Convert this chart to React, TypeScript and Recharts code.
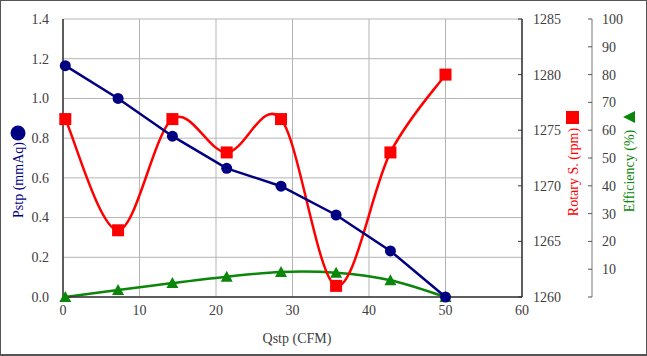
import React from 'react'
import { LineChart, Line, XAxis, YAxis, CartesianGrid } from 'recharts'

const qstp = [0.3, 7.2, 14.3, 21.4, 28.5, 35.7, 42.8, 50]
const pstp = [1.165, 1.0, 0.81, 0.648, 0.558, 0.413, 0.232, 0]
const rpm = [1276, 1266, 1276, 1273, 1276, 1261, 1273, 1280]
const efficiency = [0, 2.5, 5, 7.3, 9, 8.7, 6, 0]

const xTicks = [0, 10, 20, 30, 40, 50, 60]
const pTicks = [0, 0.2, 0.4, 0.6, 0.8, 1.0, 1.2, 1.4]
const rpmTicks = [1260, 1265, 1270, 1275, 1280, 1285]
const effTicks = [0, 10, 20, 30, 40, 50, 60, 70, 80, 90, 100]

const rows = qstp.map((q, i) => ({ q, p: pstp[i], rpm: rpm[i], eff: efficiency[i] }))

const NAVY = '#000080'
const RED = '#ff0000'
const GREEN = '#0a870a'
const FONT = '"Liberation Serif", "DejaVu Serif", serif'

// smoothing like the spreadsheet's "smoothed line" (bezier through points)
function smoothCurve(context: any) {
  let pts: number[][] = []
  return {
    areaStart() {},
    areaEnd() {},
    lineStart() {
      pts = []
    },
    point(x: number, y: number) {
      pts.push([+x, +y])
    },
    lineEnd() {
      if (!pts.length) return
      context.moveTo(pts[0][0], pts[0][1])
      for (let i = 0; i < pts.length - 1; i++) {
        const p0 = pts[i - 1] || pts[i]
        const p1 = pts[i]
        const p2 = pts[i + 1]
        const p3 = pts[i + 2] || p2
        context.bezierCurveTo(
          p1[0] + (p2[0] - p0[0]) / 6,
          p1[1] + (p2[1] - p0[1]) / 6,
          p2[0] - (p3[0] - p1[0]) / 6,
          p2[1] - (p3[1] - p1[1]) / 6,
          p2[0],
          p2[1],
        )
      }
    },
  }
}

const makeTick = (anchor: string, dy: string, fmt: (v: number) => string) => (props: any) => {
  const { x, y, payload } = props
  return (
    <text x={x} y={y} dy={dy} textAnchor={anchor} fontSize={14} fontFamily={FONT} fill="#404040">
      {fmt(payload.value)}
    </text>
  )
}

const XTick = makeTick('middle', '0.75em', (v) => String(v))
const LeftTick = makeTick('end', '0.35em', (v) => v.toFixed(1))
const RpmTick = makeTick('start', '0.35em', (v) => String(v))
const EffTick = makeTick('start', '0.35em', (v) => (v === 0 ? '' : String(v)))

const Square = (props: any) => {
  const { cx, cy } = props
  if (cx == null || cy == null) return null
  return <rect x={cx - 6} y={cy - 6} width={12} height={12} fill={RED} />
}

const Triangle = (props: any) => {
  const { cx, cy } = props
  if (cx == null || cy == null) return null
  return <polygon points={`${cx},${cy - 6} ${cx - 6},${cy + 5} ${cx + 6},${cy + 5}`} fill={GREEN} />
}

const Dot = (props: any) => {
  const { cx, cy } = props
  if (cx == null || cy == null) return null
  return <circle cx={cx} cy={cy} r={5.5} fill={NAVY} />
}

const PstpLabel = () => (
  <g>
    <circle cx={18} cy={133} r={7.5} fill={NAVY} />
    <text
      x={18}
      y={180}
      transform="rotate(-90 18 180)"
      textAnchor="middle"
      dominantBaseline="central"
      fontSize={14}
      fontFamily={FONT}
      fill={NAVY}
    >
      Pstp (mmAq)
    </text>
  </g>
)

const RpmLabel = () => (
  <g>
    <rect x={566} y={111} width={13} height={13} fill={RED} />
    <text
      x={573}
      y={172}
      transform="rotate(-90 573 172)"
      textAnchor="middle"
      dominantBaseline="central"
      fontSize={14}
      fontFamily={FONT}
      fill={RED}
    >
      Rotary S. (rpm)
    </text>
  </g>
)

const EffLabel = () => (
  <g>
    <polygon points="623,117 635,111 635,123" fill={GREEN} />
    <text
      x={629}
      y={171}
      transform="rotate(-90 629 171)"
      textAnchor="middle"
      dominantBaseline="central"
      fontSize={14}
      fontFamily={FONT}
      fill={GREEN}
    >
      Efficiency (%)
    </text>
  </g>
)

const XLabel = () => (
  <text x={297} y={338} textAnchor="middle" dominantBaseline="central" fontSize={14} fontFamily={FONT} fill="#404040">
    Qstp (CFM)
  </text>
)

export default function App() {
  return (
    <div style={{ position: 'absolute', left: 0, top: 0, width: 647, height: 356, background: '#fff' }}>
      <LineChart width={647} height={356} data={rows} margin={{ top: 19, right: 0, bottom: 0, left: 0 }}>
        <CartesianGrid yAxisId="a_left" stroke="#b4b4b4" strokeWidth={1} />
        <XAxis
          type="number"
          dataKey="q"
          domain={[0, 60]}
          ticks={xTicks}
          height={59}
          tick={<XTick />}
          tickLine={false}
          tickSize={0}
          tickMargin={7}
          axisLine={{ stroke: '#333', strokeWidth: 1.5 }}
          label={<XLabel />}
        />
        <YAxis
          yAxisId="a_left"
          orientation="left"
          width={63}
          domain={[0, 1.4]}
          ticks={pTicks}
          tick={<LeftTick />}
          tickLine={false}
          tickSize={0}
          tickMargin={14}
          axisLine={{ stroke: '#333', strokeWidth: 1.5 }}
          label={<PstpLabel />}
        />
        <YAxis
          yAxisId="b_rpm"
          orientation="right"
          width={70}
          domain={[1260, 1285]}
          ticks={rpmTicks}
          tick={<RpmTick />}
          tickSize={-4}
          tickMargin={15}
          tickLine={{ stroke: '#333' }}
          axisLine={{ stroke: '#333', strokeWidth: 1.5 }}
          label={<RpmLabel />}
        />
        <YAxis
          yAxisId="c_eff"
          orientation="right"
          width={55}
          domain={[0, 100]}
          ticks={effTicks}
          tick={<EffTick />}
          tickSize={-4}
          tickMargin={14}
          tickLine={{ stroke: '#555' }}
          axisLine={{ stroke: '#777', strokeWidth: 1 }}
          label={<EffLabel />}
        />
        <Line
          yAxisId="c_eff"
          dataKey="eff"
          type={smoothCurve as any}
          stroke={GREEN}
          strokeWidth={2.5}
          dot={<Triangle />}
          isAnimationActive={false}
        />
        <Line
          yAxisId="b_rpm"
          dataKey="rpm"
          type={smoothCurve as any}
          stroke={RED}
          strokeWidth={2.5}
          dot={<Square />}
          isAnimationActive={false}
        />
        <Line
          yAxisId="a_left"
          dataKey="p"
          type="linear"
          stroke={NAVY}
          strokeWidth={2.5}
          dot={<Dot />}
          isAnimationActive={false}
        />
      </LineChart>
      <div
        style={{
          position: 'absolute',
          left: 0,
          top: 0,
          width: 647,
          height: 356,
          boxSizing: 'border-box',
          border: '1px solid #555',
          borderBottomWidth: 2,
          pointerEvents: 'none',
        }}
      />
    </div>
  )
}
